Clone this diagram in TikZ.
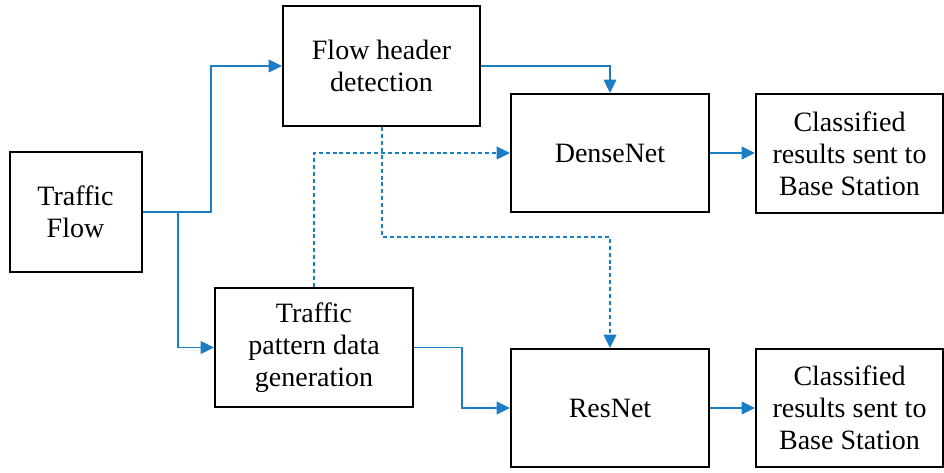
\documentclass[tikz,border=0pt]{standalone}
\usepackage{fontspec}
\setmainfont{Liberation Serif}
\usetikzlibrary{arrows.meta}
\definecolor{flowblue}{HTML}{1B7DC3}
\begin{document}
\begin{tikzpicture}[x=0.75pt,y=-0.75pt,
  box/.style={draw=black,line width=1.5pt,fill=white,align=center,inner sep=0pt,
    font=\fontsize{21pt}{24pt}\selectfont},
  flow/.style={draw=flowblue,line width=1.1pt,-{Triangle[length=10pt,width=9.5pt]}},
  dflow/.style={flow,dash pattern=on 3pt off 2.2pt}]
\useasboundingbox (0,0) rectangle (944,473);
\node[box,minimum width=99pt,minimum height=90pt] (tf) at (75.5,212) {Traffic\\Flow};
\node[box,minimum width=147.75pt,minimum height=90pt] (fh) at (381.5,66) {Flow header\\detection};
\node[box,minimum width=148.5pt,minimum height=88.5pt] (dn) at (610,153) {DenseNet};
\node[box,minimum width=140.25pt,minimum height=89.25pt] (c1) at (849.5,153.5) {Classified\\results sent to\\Base Station};
\node[box,minimum width=148.5pt,minimum height=89.25pt] (tp) at (314,347.5) {Traffic\\pattern data\\generation};
\node[box,minimum width=148.5pt,minimum height=88.5pt] (rn) at (610,408) {ResNet};
\node[box,minimum width=140.25pt,minimum height=88.5pt] (c2) at (849.5,408) {Classified\\results sent to\\Base Station};
\coordinate (ja) at (211,0);
\coordinate (jb) at (178,0);
\coordinate (jc) at (0,237);
\coordinate (jd) at (462,0);
\coordinate (je) at (382,0);
\draw[flow] (tf.east) -- (tf.east -| ja) |- (fh.west);
\draw[flow] (tf.east -| jb) |- (tp.west);
\draw[flow] (fh.east) -| (dn.north);
\draw[dflow] (fh.south -| je) -- (je |- jc) -| (rn.north);
\draw[dflow] (tp.north) |- (dn.west);
\draw[flow] (tp.east) -- (tp.east -| jd) |- (rn.west);
\draw[flow] (dn.east) -- (dn.east -| c1.west);
\draw[flow] (rn.east) -- (rn.east -| c2.west);
\end{tikzpicture}
\end{document}
